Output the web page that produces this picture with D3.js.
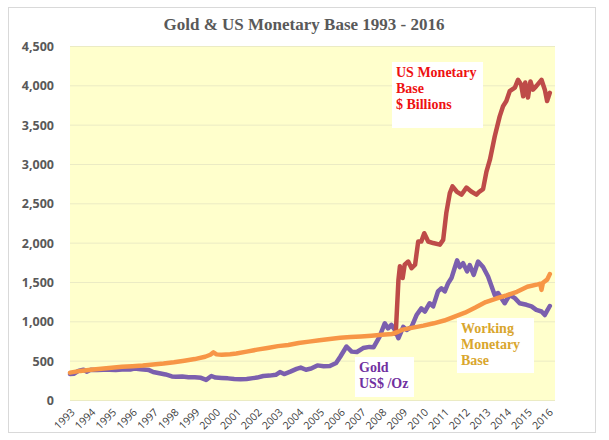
<!DOCTYPE html>
<html>
<head>
<meta charset="utf-8">
<script src="https://d3js.org/d3.v7.min.js"></script>
<style>
  body { margin: 0; background: #fff; }
  #chart { width: 609px; height: 440px; }
</style>
</head>
<body>
<div id="chart"></div>
<script>
// values, [decimal year, value]
var goldSeries = [
  [1993.0, 330], [1993.2, 335], [1993.4, 370], [1993.65, 385], [1993.8, 360],
  [1994.0, 385], [1994.3, 380], [1994.6, 385], [1994.9, 385], [1995.2, 380],
  [1995.5, 387], [1995.9, 387], [1996.1, 400], [1996.4, 390], [1996.8, 380],
  [1997.0, 355], [1997.3, 340], [1997.6, 325], [1997.9, 300], [1998.1, 295],
  [1998.4, 300], [1998.7, 290], [1999.0, 288], [1999.3, 282], [1999.55, 256],
  [1999.8, 305], [2000.0, 285], [2000.3, 280], [2000.6, 275], [2000.9, 268],
  [2001.2, 265], [2001.5, 268], [2001.8, 278], [2002.0, 285], [2002.3, 305],
  [2002.6, 310], [2002.9, 320], [2003.1, 355], [2003.3, 330], [2003.6, 360],
  [2003.9, 395], [2004.1, 412], [2004.35, 385], [2004.6, 400], [2004.9, 440],
  [2005.2, 430], [2005.5, 432], [2005.8, 470], [2006.0, 550], [2006.3, 680],
  [2006.55, 615], [2006.8, 610], [2007.1, 660], [2007.4, 675], [2007.6, 670],
  [2007.9, 810], [2008.14, 975], [2008.3, 910], [2008.46, 955], [2008.63, 890],
  [2008.8, 785], [2009.03, 930], [2009.19, 890], [2009.43, 930], [2009.67, 1080],
  [2009.9, 1165], [2010.07, 1125], [2010.3, 1230], [2010.47, 1190], [2010.7, 1380],
  [2010.87, 1420], [2011.03, 1380], [2011.19, 1485], [2011.35, 1550], [2011.5, 1675],
  [2011.62, 1775], [2011.75, 1690], [2011.91, 1740], [2012.1, 1635], [2012.23, 1715],
  [2012.42, 1590], [2012.63, 1760], [2012.87, 1690], [2013.11, 1570], [2013.43, 1335],
  [2013.59, 1360], [2013.91, 1230], [2014.15, 1335], [2014.4, 1295], [2014.63, 1230],
  [2014.96, 1210], [2015.2, 1190], [2015.43, 1145], [2015.68, 1125], [2015.84, 1080],
  [2015.92, 1120], [2016.08, 1195]
]

var baseSeries = [
  [2008.6, 845], [2008.67, 850], [2008.8, 1530], [2008.87, 1700], [2009.0, 1550],
  [2009.1, 1720], [2009.27, 1760], [2009.43, 1675], [2009.6, 1720], [2009.75, 2015],
  [2009.9, 2015], [2010.04, 2120], [2010.23, 2015], [2010.47, 1995], [2010.79, 1975],
  [2010.95, 2035], [2011.1, 2375], [2011.27, 2630], [2011.4, 2715], [2011.6, 2650],
  [2011.83, 2610], [2012.07, 2700], [2012.3, 2650], [2012.55, 2610], [2012.7, 2650],
  [2012.87, 2680], [2013.03, 2900], [2013.2, 3055], [2013.43, 3350], [2013.67, 3605],
  [2013.83, 3735], [2013.99, 3800], [2014.15, 3925], [2014.4, 3970], [2014.55, 4070],
  [2014.7, 4010], [2014.8, 3860], [2014.9, 4035], [2015.03, 3845], [2015.15, 4050],
  [2015.27, 3945], [2015.43, 3990], [2015.68, 4070], [2015.84, 3945], [2015.95, 3800],
  [2016.08, 3905]
]

var workingSeries = [
  [1993.0, 348], [1993.5, 370], [1994.0, 385], [1994.5, 398], [1995.0, 410],
  [1995.5, 422], [1996.0, 430], [1996.5, 438], [1997.0, 450], [1997.5, 463],
  [1998.0, 480], [1998.5, 500], [1999.0, 520], [1999.5, 550], [1999.75, 575],
  [1999.9, 605], [2000.05, 580], [2000.3, 575], [2000.7, 582], [2001.0, 592],
  [2001.5, 615], [2002.0, 640], [2002.5, 662], [2003.0, 685], [2003.5, 700],
  [2004.0, 725], [2004.5, 742], [2005.0, 760], [2005.5, 775], [2006.0, 790],
  [2006.5, 800], [2007.0, 808], [2007.5, 818], [2008.0, 828], [2008.5, 840],
  [2008.8, 870], [2009.0, 895], [2009.5, 920], [2010.0, 945], [2010.5, 975],
  [2011.0, 1010], [2011.5, 1060], [2012.0, 1110], [2012.5, 1175], [2013.0, 1245],
  [2013.5, 1290], [2014.0, 1330], [2014.5, 1375], [2015.0, 1440], [2015.5, 1470],
  [2015.62, 1478], [2015.68, 1400], [2015.75, 1490], [2015.95, 1530], [2016.08, 1600]
]

var yearLabels = d3.range(1993, 2017)
var yTicks = d3.range(0, 4501, 500)

const width = 609;
const height = 440;
const margin = { top: 46, right: 54, bottom: 40, left: 70 };

const svg = d3.select("#chart").append("svg")
  .attr("width", width)
  .attr("height", height);

// chart area with border
svg.append("rect")
  .attr("x", 8.5)
  .attr("y", 7.5)
  .attr("width", 587)
  .attr("height", 425)
  .style("fill", "#fff")
  .style("stroke", "#d9d9d9");

svg.append("text")
  .attr("x", 304)
  .attr("y", 30)
  .attr("text-anchor", "middle")
  .style("font-family", "'Liberation Serif', 'Times New Roman', serif")
  .style("font-weight", "bold")
  .style("font-size", "17px")
  .style("fill", "#595959")
  .text("Gold & US Monetary Base 1993 - 2016");

var x = d3.scaleLinear()
  .domain([1993, 2016.33])
  .range([margin.left, width - margin.right]);

var y = d3.scaleLinear()
  .domain([0, 4500])
  .range([height - margin.bottom, margin.top]);

svg.append("rect")
  .attr("x", x.range()[0])
  .attr("y", y(4500))
  .attr("width", x.range()[1] - x.range()[0])
  .attr("height", y(0) - y(4500))
  .style("fill", "#ffffcc");

// grid lines
svg.append("g")
  .selectAll("line")
  .data(yTicks)
  .enter()
  .append("line")
  .attr("x1", x.range()[0])
  .attr("x2", x.range()[1])
  .attr("y1", d => y(d) + 0.5)
  .attr("y2", d => y(d) + 0.5)
  .style("stroke", "#ebebc4")
  .style("stroke-width", 1);

var yAxis = svg.append("g")
  .attr("transform", "translate(" + (margin.left - 13) + ",0)")
  .call(d3.axisLeft(y).tickValues(yTicks).tickFormat(d3.format(",")).tickSize(0));
yAxis.select(".domain").remove();
yAxis.selectAll("text")
  .attr("dy", "0.35em")
  .style("font-family", "'Open Sans', sans-serif")
  .style("font-weight", "bold")
  .style("font-size", "12.5px")
  .style("fill", "#595959");

var xAxis = svg.append("g")
  .attr("transform", "translate(0," + (y(0) + 6) + ")")
  .call(d3.axisBottom(x).tickValues(yearLabels).tickFormat(d3.format("d")).tickSize(0));
xAxis.select(".domain").remove();
xAxis.selectAll("text")
  .attr("text-anchor", "end")
  .attr("dy", null)
  .attr("y", 0)
  .attr("transform", "translate(5,7) rotate(-45)")
  .style("font-family", "'Open Sans', sans-serif")
  .style("font-size", "10.5px")
  .style("fill", "#404040");

var line = d3.line()
  .x(d => x(d[0]))
  .y(d => y(d[1]))
  .curve(d3.curveLinear);

var series = [
  { data: goldSeries, color: "#7b5fae" },
  { data: baseSeries, color: "#be4b48" },
  { data: workingSeries, color: "#f79646" }
]

svg.selectAll("path.series")
  .data(series)
  .enter()
  .append("path")
  .attr("class", "series")
  .attr("d", d => line(d.data))
  .style("fill", "none")
  .style("stroke", d => d.color)
  .style("stroke-width", 4.5)
  .style("stroke-linejoin", "round")
  .style("stroke-linecap", "round");

// text boxes
var notes = [
  { x: 392, y: 62, w: 91, h: 66, color: "#ee1111", lines: ["US Monetary", "Base", "$ Billions"] },
  { x: 355, y: 357, w: 59, h: 40, color: "#7030a0", lines: ["Gold", "US$ /Oz"] },
  { x: 457, y: 318, w: 77, h: 55, color: "#d9a62e", lines: ["Working", "Monetary", "Base"] }
]

var noteG = svg.selectAll("g.note")
  .data(notes)
  .enter()
  .append("g")
  .attr("class", "note");

noteG.append("rect")
  .attr("x", d => d.x)
  .attr("y", d => d.y)
  .attr("width", d => d.w)
  .attr("height", d => d.h)
  .style("fill", "#fff");

noteG.each(function(d) {
  d3.select(this).selectAll("text")
    .data(d.lines)
    .enter()
    .append("text")
    .attr("x", d.x + 4)
    .attr("y", (t, i) => d.y + 15 + i * 16)
    .style("font-family", "'Liberation Serif', 'Times New Roman', serif")
    .style("font-weight", "bold")
    .style("font-size", "14px")
    .style("fill", d.color)
    .text(t => t);
});
</script>
</body>
</html>
